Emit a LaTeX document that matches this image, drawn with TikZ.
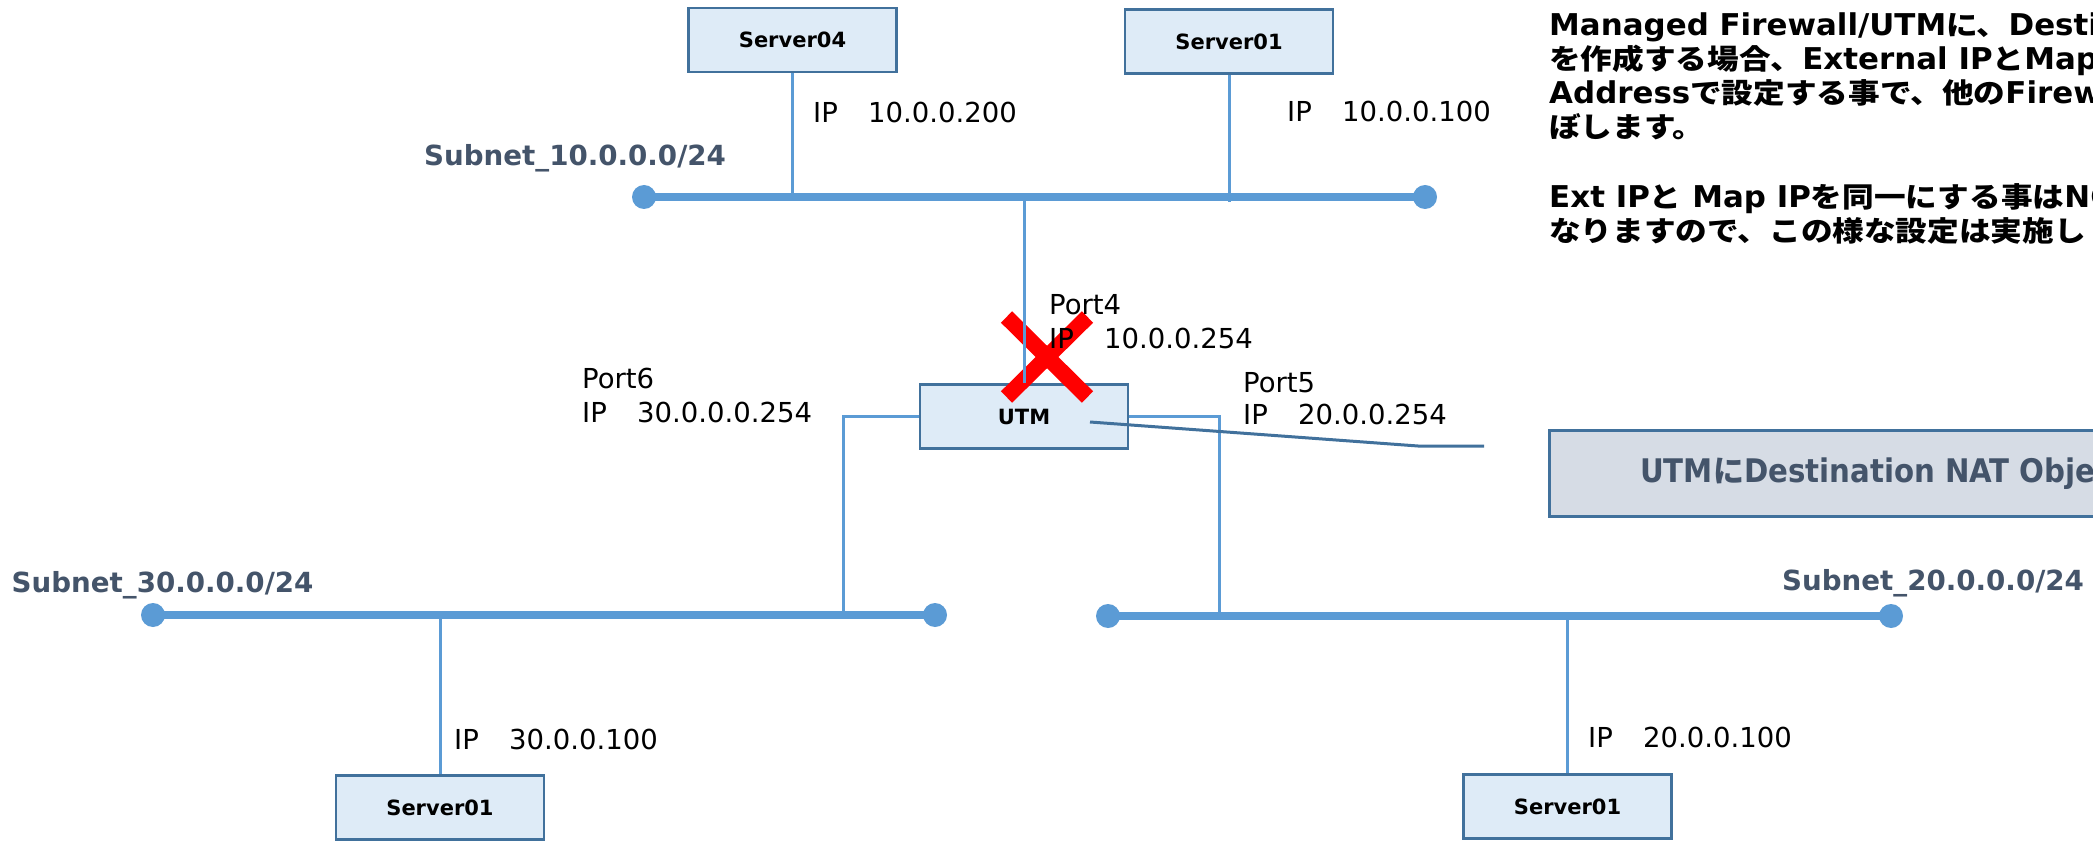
\documentclass[tikz,border=0pt]{standalone}
\usepackage{fontspec}
\usetikzlibrary{calc}
\setmainfont{DejaVu Sans}
\newfontfamily\condfont{DejaVu Sans Condensed}[BoldFont={DejaVu Sans Condensed Bold}]
\newfontfamily\widefont{DejaVu Sans}[FakeStretch=1.03]
\newfontfamily\jpfont{Noto Sans CJK JP}
\newfontfamily\jpwide{Noto Sans CJK JP}[FakeStretch=1.13]

\definecolor{wire}{HTML}{5B9BD5}
\definecolor{edge}{HTML}{41719C}
\definecolor{boxfill}{HTML}{DEEBF7}
\definecolor{notefill}{HTML}{D6DCE5}
\definecolor{slate}{HTML}{44546A}

% Japanese run inside the note paragraph
\newcommand\pj[1]{{\jpwide\bfseries\fontsize{28pt}{34pt}\selectfont #1}}

\tikzset{
  host/.style={draw=edge, line width=2.5pt, fill=boxfill, minimum width=208pt,
    minimum height=64pt, inner sep=0pt, font=\bfseries\fontsize{21pt}{25pt}\selectfont},
  link/.style={draw=wire, line width=3pt},
  bus/.style={draw=wire, line width=8.5pt},
  busend/.style={fill=wire, draw=none, circle, minimum size=24pt, inner sep=0pt},
  addr/.style={anchor=base west, inner sep=0pt, font=\fontsize{27.5pt}{34pt}\selectfont},
  netname/.style={anchor=base west, inner sep=0pt, text=slate,
    font=\bfseries\fontsize{27.7pt}{32pt}\selectfont},
  para/.style={anchor=base west, inner sep=0pt,
    font=\widefont\bfseries\fontsize{30pt}{34pt}\selectfont},
  leader/.style={draw=edge, line width=3pt},
  cross/.style={draw=red, line width=16pt},
  notebox/.style={draw=edge, line width=3pt, fill=notefill, minimum width=800pt,
    minimum height=86pt, inner sep=0pt},
}

\begin{document}
\begin{tikzpicture}[x=1pt, y=-1pt]
\useasboundingbox (0,0) rectangle (2093,842);
\fill[white] (0,0) rectangle (2093,842);
\clip (0,0) rectangle (2093,842);

% ---- hosts ----
\node[host] (srv04)  at (792.5,40)   {Server04};
\node[host] (srv01t) at (1229,41.5)  {Server01};
\node[host] (utm)    at (1024,416.5) {UTM};
\node[host] (srv01l) at (440,807.5)  {Server01};
\node[host] (srv01r) at (1567.5,806.5) {Server01};

% ---- network segments ----
\node[busend] (n10l) at (644,197) {};
\node[busend] (n10r) at (1425,197) {};
\node[busend] (n30l) at (153,615) {};
\node[busend] (n30r) at (935,615) {};
\node[busend] (n20l) at (1108,616) {};
\node[busend] (n20r) at (1891,616) {};
\coordinate (tap30) at (843,615);
\coordinate (tap20) at (1219,616);

% ---- drops from hosts to segments ----
\draw[link] (srv04.south)  -- (srv04.south |- n10l.center);
\draw[link] (srv01t.south) -- ([yshift=-5pt]srv01t.south |- n10l.center);
\draw[link] (srv01l.north) -- (srv01l.north |- n30l.center);
\draw[link] (srv01r.north) -- (srv01r.north |- n20l.center);
\draw[link] (utm.west) -| (tap30);
\draw[link] (utm.east) -| (tap20);

\draw[bus] (n10l.center) -- (n10r.center);
\draw[bus] (n30l.center) -- (n30r.center);
\draw[bus] (n20l.center) -- (n20r.center);

% redraw hosts above the drops
\node[host] at (srv04)  {Server04};
\node[host] at (srv01t) {Server01};
\node[host] at (srv01l) {Server01};
\node[host] at (srv01r) {Server01};
\node[host] at (utm)    {UTM};

% ---- blocked Port4 ----
\coordinate (xc) at (1047,357);
\draw[cross] ($(xc)+(-40.5,-40)$) -- ($(xc)+(40.5,40)$);
\draw[cross] ($(xc)+(40.5,-40)$) -- ($(xc)+(-40.5,40)$);
\draw[link] (utm.north) -- (utm.north |- n10l.center);

% ---- callout ----
\coordinate (ldA) at ($(utm.center)+(66,5.5)$);
\coordinate (ldB) at (1418,446);
\coordinate (ldC) at (1484,446);
\draw[leader] (ldA) -- (ldB) -- (ldC);
\node[notebox, anchor=north west] (note) at (1548,429) {};
\node[anchor=base west, inner sep=0pt, text=slate,
      font=\condfont\bfseries\fontsize{32.5pt}{36pt}\selectfont] (notetext) at (1640,482)
  {UTM{\jpfont\bfseries\fontsize{31pt}{36pt}\selectfont に}Destination NAT Object};

% ---- segment names ----
\node[netname] (lab10) at (424,166)  {Subnet\_10.0.0.0/24};
\node[netname] (lab30) at (11.5,592) {Subnet\_30.0.0.0/24};
\node[netname] (lab20) at (1782,590) {Subnet\_20.0.0.0/24};

% ---- addresses ----
\node[addr] (ip200) at (813,123)  {IP\hspace{1.1em}10.0.0.200};
\node[addr] (ip100) at (1287,122) {IP\hspace{1.1em}10.0.0.100};
\node[addr] (p4a)   at (1049,314) {Port4};
\node[addr] (p4b)   at (1049,348) {IP\hspace{1.1em}10.0.0.254};
\node[addr] (p5a)   at (1243,392) {Port5};
\node[addr] (p5b)   at (1243,424) {IP\hspace{1.1em}20.0.0.254};
\node[addr] (p6a)   at (582,388)  {Port6};
\node[addr] (p6b)   at (582,422)  {IP\hspace{1.1em}30.0.0.0.254};
\node[addr] (ip30)  at (454,749)  {IP\hspace{1.1em}30.0.0.100};
\node[addr] (ip20)  at (1588,747) {IP\hspace{1.1em}20.0.0.100};

% ---- note paragraph ----
\node[para] (t1) at (1549,36)  {Managed Firewall/UTM\pj{に、}Destination};
\node[para] (t2) at (1549,70)  {\pj{を作成する場合、}External IP\pj{と}Mapped};
\node[para] (t3) at (1549,104) {Address\pj{で設定する事で、他の}Firewall};
\node[para] (t4) at (1549,138) {\pj{ぼします。}};
\node[para] (t5) at (1549,208) {Ext IP\pj{と} Map IP\pj{を同一にする事は}NG};
\node[para] (t6) at (1549,242) {\pj{なりますので、この様な設定は実施し}};
\end{tikzpicture}
\end{document}
